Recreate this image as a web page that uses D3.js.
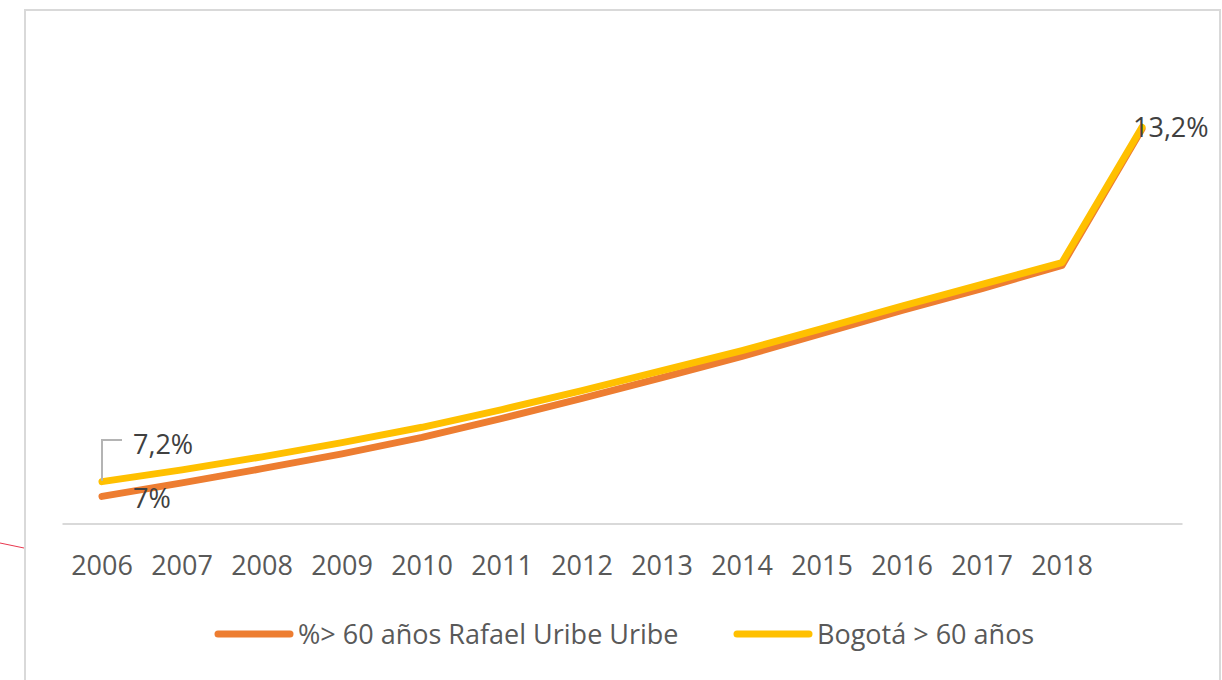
<!DOCTYPE html>
<html>
<head>
<meta charset="utf-8">
<script src="https://cdn.jsdelivr.net/npm/d3@7"></script>
<style>
  body { margin: 0; background: #fff; }
  text { font-family: "Open Sans", sans-serif; }
</style>
</head>
<body>
<svg class="chart"></svg>
<script>
// years on the x axis, last point has no label in the original
var years = ["2006","2007","2008","2009","2010","2011","2012","2013","2014","2015","2016","2017","2018","2019"];
var tickLabels = ["2006","2007","2008","2009","2010","2011","2012","2013","2014","2015","2016","2017","2018",""];

// % population over 60
var rafaelUribe = [6.95,7.18,7.42,7.67,7.95,8.27,8.61,8.96,9.32,9.71,10.10,10.47,10.86,13.17];
var bogota = [7.20,7.40,7.62,7.86,8.12,8.42,8.74,9.08,9.42,9.79,10.17,10.54,10.91,13.20];

var seriesNames = ["%> 60 años Rafael Uribe Uribe", "Bogotá > 60 años"];
var colors = ["#ED7D31", "#FFC000"];

var width = 1222;
var height = 680;

var chart = d3.select(".chart").attr("width", width).attr("height", height);

// frame
chart.append("rect")
  .attr("x", 25).attr("y", 10)
  .attr("width", 1195).attr("height", 700)
  .attr("fill", "#fff")
  .attr("stroke", "#D9D9D9")
  .attr("stroke-width", 2);

// little red stray line on the left
chart.append("line")
  .attr("x1", 0).attr("y1", 543)
  .attr("x2", 24).attr("y2", 548)
  .attr("stroke", "#E8384F")
  .attr("stroke-width", 1);

var x = d3.scaleBand()
  .domain(years)
  .range([62, 1182]);

var y = d3.scaleLinear()
  .domain([6.5, 14])
  .range([523, 80]);

function cx(d) { return x(d) + x.bandwidth() / 2; }

// x axis
var xAxis = d3.axisBottom(x)
  .tickSize(0)
  .tickPadding(0)
  .tickFormat(function(d, i) { return tickLabels[i]; });

var gx = chart.append("g")
  .attr("transform", "translate(0,523.5)")
  .call(xAxis);

gx.select(".domain").attr("stroke", "#D9D9D9").attr("stroke-width", 2);
gx.selectAll(".tick text")
  .attr("dy", null)
  .attr("y", 51)
  .attr("fill", "#595959")
  .style("font-size", "27px");

// lines
var line = d3.line()
  .x(function(d, i) { return cx(years[i]); })
  .y(function(d) { return y(d); });

var allSeries = [rafaelUribe, bogota];
allSeries.forEach(function(s, k) {
  chart.append("path")
    .datum(s)
    .attr("d", line)
    .attr("fill", "none")
    .attr("stroke", colors[k])
    .attr("stroke-width", 7)
    .attr("stroke-linecap", "round")
    .attr("stroke-linejoin", "round");
});

// data labels
var x0 = cx(years[0]);
var xn = cx(years[years.length - 1]);

chart.append("path")
  .attr("d", "M" + x0 + "," + (y(bogota[0]) - 1) + "V" + 440 + "H" + (x0 + 20))
  .attr("fill", "none")
  .attr("stroke", "#B4B4B4")
  .attr("stroke-width", 2);

chart.append("text")
  .attr("x", x0 + 31).attr("y", y(bogota[0]) - 28)
  .attr("fill", "#404040")
  .style("font-size", "27px")
  .text("7,2%");

chart.append("text")
  .attr("x", x0 + 31).attr("y", y(rafaelUribe[0]) + 12)
  .attr("fill", "#404040")
  .style("font-size", "27px")
  .text("7%");

chart.append("text")
  .attr("x", xn - 9).attr("y", y(bogota[bogota.length - 1]) + 10)
  .attr("fill", "#404040")
  .style("font-size", "27px")
  .text("13,2%");

// legend
var legendX = [218, 737];
seriesNames.forEach(function(name, k) {
  chart.append("line")
    .attr("x1", legendX[k]).attr("x2", legendX[k] + 72)
    .attr("y1", 634).attr("y2", 634)
    .attr("stroke", colors[k])
    .attr("stroke-width", 7)
    .attr("stroke-linecap", "round");
  chart.append("text")
    .attr("x", legendX[k] + 80)
    .attr("y", 644)
    .attr("fill", "#595959")
    .style("font-size", "27px")
    .text(name);
});
</script>
</body>
</html>
